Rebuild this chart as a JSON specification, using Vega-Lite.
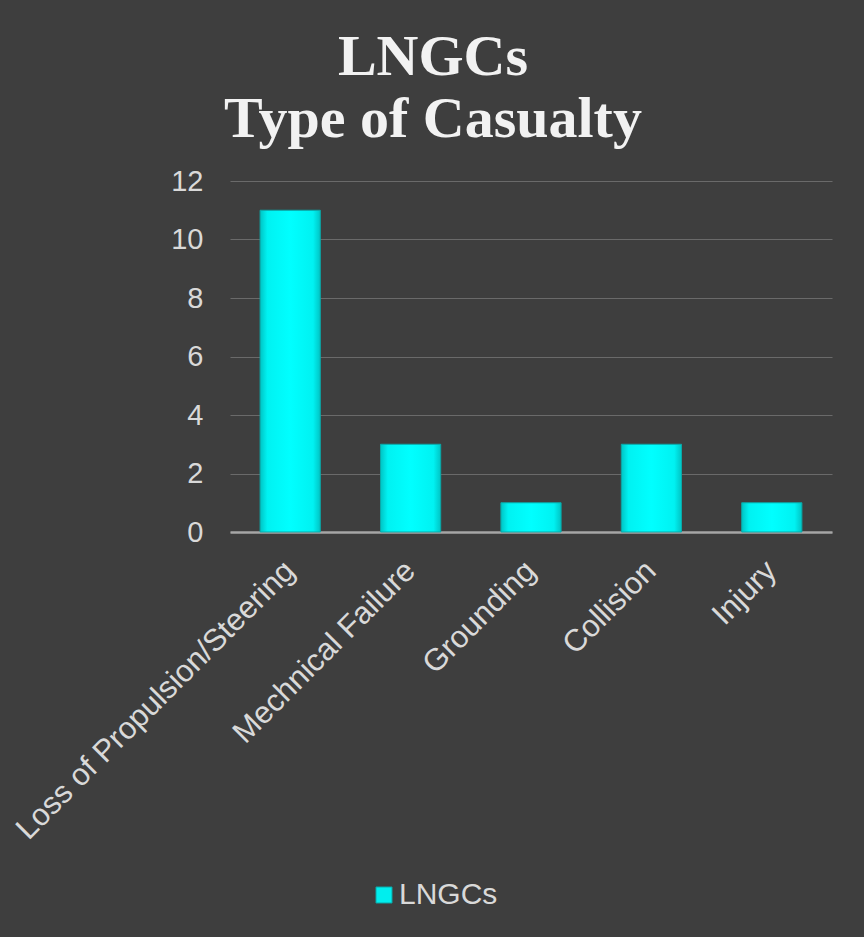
{
  "$schema": "https://vega.github.io/schema/vega-lite/v6.json",
  "width": 602,
  "height": 351,
  "autosize": "none",
  "padding": {"left": 230, "top": 181, "right": 32, "bottom": 405},
  "background": "#3e3e3e",
  "title": {
    "text": ["LNGCs", "Type of Casualty"],
    "font": "Liberation Serif",
    "fontWeight": "bold",
    "fontSize": 58,
    "lineHeight": 62,
    "color": "#f2f2f2",
    "anchor": "middle",
    "offset": 18,
    "dx": -98
  },
  "data": {
    "values": [
      {"type": "Loss of Propulsion/Steering", "series": "LNGCs", "count": 11},
      {"type": "Mechnical Failure", "series": "LNGCs", "count": 3},
      {"type": "Grounding", "series": "LNGCs", "count": 1},
      {"type": "Collision", "series": "LNGCs", "count": 3},
      {"type": "Injury", "series": "LNGCs", "count": 1}
    ]
  },
  "mark": {
    "type": "bar",
    "stroke": "#0aa8a8",
    "strokeWidth": 1,
    "fill": {
      "gradient": "linear",
      "x1": 0, "x2": 1, "y1": 0, "y2": 0,
      "stops": [
        {"offset": 0, "color": "#00c4c4"},
        {"offset": 0.12, "color": "#00f2f2"},
        {"offset": 0.5, "color": "#00ffff"},
        {"offset": 0.88, "color": "#00f2f2"},
        {"offset": 1, "color": "#00c4c4"}
      ]
    }
  },
  "encoding": {
    "x": {
      "field": "type",
      "type": "nominal",
      "sort": null,
      "scale": {"paddingInner": 0.5, "paddingOuter": 0.25},
      "axis": {
        "title": null,
        "labelAngle": -45,
        "labelAlign": "right",
        "labelBaseline": "middle",
        "labelFont": "Liberation Sans",
        "labelFontSize": 31,
        "labelColor": "#d9d9d9",
        "labelPadding": 34,
        "labelLimit": 600,
        "ticks": false,
        "domainColor": "#a6a6a6",
        "domainWidth": 2.5
      }
    },
    "y": {
      "field": "count",
      "type": "quantitative",
      "scale": {"domain": [0, 12]},
      "axis": {
        "title": null,
        "values": [0, 2, 4, 6, 8, 10, 12],
        "labelFont": "Liberation Sans",
        "labelFontSize": 29,
        "labelColor": "#d9d9d9",
        "labelPadding": 27,
        "ticks": false,
        "domain": false,
        "gridColor": "#6a6a6a",
        "gridWidth": 1.2
      }
    },
    "color": {
      "field": "series",
      "type": "nominal",
      "scale": {"range": ["#00eeee"]},
      "legend": {
        "title": null,
        "orient": "none",
        "legendX": 139,
        "legendY": 699,
        "padding": 0,
        "direction": "horizontal",
        "symbolType": "square",
        "symbolSize": 256,
        "symbolStrokeColor": "#0aa8a8",
        "symbolStrokeWidth": 1,
        "labelFont": "Liberation Sans",
        "labelFontSize": 30,
        "labelColor": "#d9d9d9",
        "labelOffset": 0
      }
    }
  },
  "config": {
    "view": {"stroke": null}
  }
}
